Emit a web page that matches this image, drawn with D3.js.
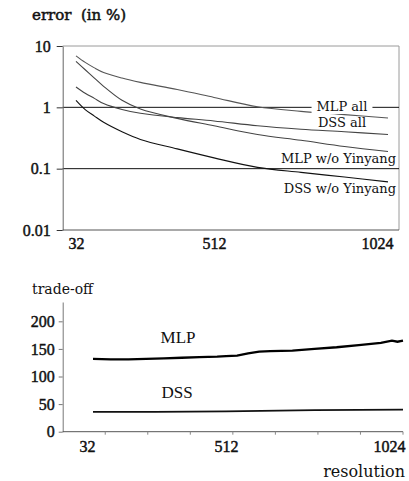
<!DOCTYPE html>
<html><head><meta charset="utf-8">
<script src="https://cdn.jsdelivr.net/npm/d3@7"></script>
<style>
body{margin:0;background:#fff}
svg{display:block}
.num{font-family:"Liberation Serif",serif;font-size:16px;fill:#111}
.tick-num{stroke:#111;stroke-width:0.45px}
.word{font-family:"DejaVu Serif",serif;fill:#111}
</style>
</head><body>
<svg id="c" width="409" height="481"></svg>
<script>
// ---------- data ----------
const xTickValues = [32, 512, 1024];
const xTickLabels = ["32", "512", "1024"];

// top chart: error (in %) vs resolution, log scale
const errTicks = [0.01, 0.1, 1, 10];
const errTickLabels = ["0.01", "0.1", "1", "10"];
const errRes = [32, 64, 96, 128, 192, 256, 384, 512, 640, 768, 896, 1024];
const errMlpAll  = [6.9, 5.4, 4.4, 3.7, 3.0, 2.55, 1.95, 1.45, 1.02, 0.86, 0.76, 0.67];
const errDssAll  = [2.15, 1.7, 1.4, 1.15, 0.92, 0.8, 0.68, 0.6, 0.5, 0.44, 0.4, 0.36];
const errMlpWo   = [5.6, 4.1, 3.0, 2.2, 1.3, 0.94, 0.66, 0.5, 0.36, 0.29, 0.23, 0.19];
const errDssWo   = [1.3, 0.92, 0.72, 0.57, 0.4, 0.3, 0.21, 0.15, 0.105, 0.087, 0.073, 0.061];
const errNames   = ["MLP all", "DSS all", "MLP w/o Yinyang", "DSS w/o Yinyang"];
const errGrid    = [1, 0.1];

// bottom chart: trade-off vs resolution
const tradeTicks = [0, 50, 100, 150, 200];
const tradeMlpRes = [32, 96, 160, 224, 288, 352, 416, 480, 512, 544, 576, 608, 640, 704, 768, 832, 896, 960, 992, 1008, 1024];
const tradeMlp    = [132, 131, 131, 132, 133, 134, 135, 136, 137, 138, 142, 145, 146, 147, 150, 153, 157, 161, 165, 163, 165];
const tradeDssRes = [32, 256, 512, 768, 1024];
const tradeDss    = [36, 36, 37, 39, 40];
const tradeNames  = ["MLP", "DSS"];

// ---------- drawing ----------
const svg = d3.select("#c");
svg.append("rect").attr("width",409).attr("height",481).attr("fill","#fff");

function styleNums(g){
  g.selectAll("text").attr("class","num tick-num").attr("font-family",null).attr("font-size",null);
}

/* ===== top chart ===== */
const T = {left:62.7, right:399, top:46, bottom:230};
const xT = d3.scaleLinear().domain(xTickValues).range([76, 214, 388]);
const yT = d3.scaleLog().domain([0.01, 10]).range([T.bottom, T.top]);

svg.append("text").attr("class","word").attr("x",32).attr("y",20)
   .style("font-size","15px").style("white-space","pre")
   .style("stroke","#111").style("stroke-width","0.5px").text("error  (in %)");

// frame (top + right)
svg.append("path").attr("fill","none").attr("stroke","#9a9a9a").attr("stroke-width",1)
   .attr("d",`M${T.left},${T.top}H${T.right}V${T.bottom}`);

// gridlines at 1 and 0.1
svg.selectAll(".grid").data(errGrid).join("line").attr("class","grid")
   .attr("x1",T.left).attr("x2",T.right)
   .attr("y1",d=>yT(d)).attr("y2",d=>yT(d))
   .attr("stroke","#111").attr("stroke-width",1);

// left axis
const gyT = svg.append("g").attr("transform",`translate(${T.left},0)`)
  .call(d3.axisLeft(yT).tickValues(errTicks).tickFormat((d,i)=>errTickLabels[i])
        .tickSize(6).tickSizeOuter(0).tickPadding(6));
gyT.select(".domain").attr("stroke","#666");
gyT.selectAll(".tick line").attr("stroke","#333");
styleNums(gyT);

// bottom axis baseline
svg.append("line").attr("x1",T.left).attr("x2",T.right).attr("y1",T.bottom).attr("y2",T.bottom)
   .attr("stroke","#555");
const gxT = svg.append("g").attr("transform",`translate(0,${T.bottom})`)
  .call(d3.axisBottom(xT).tickValues(xTickValues).tickFormat((d,i)=>xTickLabels[i]).tickSize(0).tickPadding(8));
gxT.select(".domain").remove();
styleNums(gxT);
gxT.selectAll("text").filter((d,i)=>i===2).attr("text-anchor","end").attr("dx",5);

// curves
const errSeries = [errMlpAll, errDssAll, errMlpWo, errDssWo];
const errColors = ["#555", "#444", "#444", "#111"];
const lineT = d3.line().x((d,i)=>xT(errRes[i])).y(d=>yT(d)).curve(d3.curveCatmullRom.alpha(0.5));
svg.selectAll(".errline").data(errSeries).join("path").attr("class","errline")
   .attr("fill","none").attr("stroke",(d,i)=>errColors[i]).attr("stroke-width",1.1)
   .attr("d",lineT);

// labels
const lblPos = [
  {anchor:"middle", x:342, y:111, bg:true},
  {anchor:"middle", x:342, y:127, bg:false},
  {anchor:"end", x:396, y:163, bg:false},
  {anchor:"end", x:396, y:193, bg:false}
];
errNames.forEach((n,i)=>{
  const p = lblPos[i];
  const t = svg.append("text").attr("class","word").style("font-size","13px")
     .attr("x",p.x).attr("y",p.y).attr("text-anchor",p.anchor).text(n);
  if(p.bg){
    const b = t.node().getBBox();
    svg.insert("rect", function(){return t.node();})
      .attr("x",b.x-5).attr("y",b.y).attr("width",b.width+10).attr("height",b.height).attr("fill","#fff");
  }
});

/* ===== bottom chart ===== */
const B = {left:62.7, right:403, top:302, bottom:431.7};
const xB = d3.scaleLinear().domain(xTickValues).range([93, 226, 403]);
const yB = d3.scaleLinear().domain([0, 235]).range([B.bottom, B.top]);

svg.append("text").attr("class","word").attr("x",32).attr("y",294)
   .style("font-size","14px").text("trade-off");
svg.append("text").attr("class","word").attr("x",405).attr("y",477).attr("text-anchor","end")
   .style("font-size","16px").text("resolution");

const gyB = svg.append("g").attr("transform",`translate(${B.left},0)`)
  .call(d3.axisLeft(yB).tickValues(tradeTicks).tickSize(4).tickSizeOuter(0).tickPadding(4));
gyB.select(".domain").attr("stroke","#777");
gyB.selectAll(".tick line").attr("stroke","#777");
styleNums(gyB);

svg.append("line").attr("x1",B.left).attr("x2",B.right).attr("y1",B.bottom).attr("y2",B.bottom)
   .attr("stroke","#555");
// minor ticks along the baseline
const minor = d3.scaleLinear().domain([0,8]).range([B.left, B.right]);
svg.selectAll(".minor").data(d3.range(1,9)).join("line").attr("class","minor")
   .attr("x1",d=>minor(d)).attr("x2",d=>minor(d)).attr("y1",B.bottom).attr("y2",B.bottom+3)
   .attr("stroke","#888");

const gxB = svg.append("g").attr("transform",`translate(0,${B.bottom})`)
  .call(d3.axisBottom(xB).tickValues(xTickValues).tickFormat((d,i)=>xTickLabels[i]).tickSize(0).tickPadding(9));
gxB.select(".domain").remove();
styleNums(gxB);
gxB.selectAll("text").filter((d,i)=>i===0).attr("dx",-6);
gxB.selectAll("text").filter((d,i)=>i===2).attr("text-anchor","end").attr("dx",2);

const lineMlp = d3.line().x((d,i)=>xB(tradeMlpRes[i])).y(d=>yB(d));
const lineDss = d3.line().x((d,i)=>xB(tradeDssRes[i])).y(d=>yB(d));
svg.append("path").datum(tradeMlp).attr("fill","none").attr("stroke","#000").attr("stroke-width",2.3).attr("d",lineMlp);
svg.append("path").datum(tradeDss).attr("fill","none").attr("stroke","#111").attr("stroke-width",1.8).attr("d",lineDss);

svg.append("text").attr("class","num").style("font-size","17px").attr("x",178).attr("y",343)
   .attr("text-anchor","middle").text(tradeNames[0]);
svg.append("text").attr("class","num").style("font-size","17px").attr("x",177).attr("y",398)
   .attr("text-anchor","middle").text(tradeNames[1]);
</script>
</body></html>
